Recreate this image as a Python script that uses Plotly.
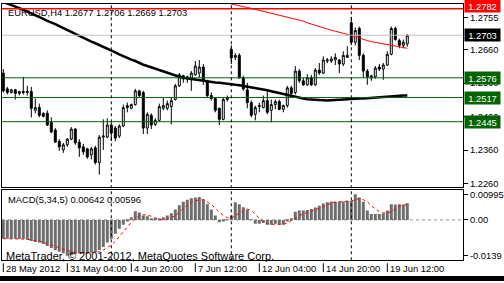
import plotly.graph_objects as go

# ---------------- data ----------------
bar_idx = list(range(102))
opens = [1.2590,1.2543,1.2532,1.2540,1.2529,1.2535,1.2532,1.2535,1.2479,1.2487,
1.2470,1.2470,1.2443,1.2420,1.2387,1.2361,1.2376,1.2393,1.2423,1.2384,
1.2370,1.2364,1.2346,1.2367,1.2323,1.2399,1.2399,1.2435,1.2426,1.2402,
1.2432,1.2487,1.2485,1.2496,1.2537,1.2532,1.2426,1.2464,1.2437,1.2449,
1.2485,1.2485,1.2490,1.2511,1.2552,1.2582,1.2573,1.2570,1.2585,1.2590,
1.2608,1.2567,1.2523,1.2514,1.2485,1.2452,1.2511,1.2661,1.2637,1.2643,
1.2576,1.2540,1.2502,1.2467,1.2490,1.2487,1.2508,1.2479,1.2496,1.2505,
1.2482,1.2493,1.2546,1.2532,1.2596,1.2567,1.2555,1.2576,1.2555,1.2599,
1.2590,1.2626,1.2626,1.2629,1.2629,1.2617,1.2637,1.2740,1.2682,1.2723,
1.2643,1.2596,1.2576,1.2579,1.2608,1.2602,1.2614,1.2646,1.2723,1.2687,
1.2673,1.2677]
highs = [1.2602,1.2549,1.2543,1.2543,1.2537,1.2579,1.2552,1.2549,1.2514,1.2499,
1.2473,1.2479,1.2458,1.2426,1.2393,1.2382,1.2396,1.2429,1.2426,1.2393,
1.2379,1.2367,1.2370,1.2373,1.2405,1.2452,1.2455,1.2443,1.2432,1.2437,
1.2496,1.2502,1.2499,1.2543,1.2540,1.2537,1.2473,1.2470,1.2455,1.2499,
1.2517,1.2508,1.2517,1.2558,1.2590,1.2585,1.2582,1.2596,1.2626,1.2629,
1.2617,1.2570,1.2532,1.2517,1.2487,1.2517,1.2523,1.2673,1.2649,1.2649,
1.2582,1.2561,1.2508,1.2493,1.2502,1.2523,1.2537,1.2511,1.2511,1.2511,
1.2496,1.2552,1.2552,1.2611,1.2602,1.2576,1.2587,1.2585,1.2605,1.2620,
1.2640,1.2635,1.2640,1.2649,1.2632,1.2655,1.2670,1.2758,1.2726,1.2729,
1.2649,1.2602,1.2585,1.2611,1.2617,1.2620,1.2655,1.2729,1.2729,1.2693,
1.2690,1.2706]
lows = [1.2532,1.2526,1.2529,1.2511,1.2523,1.2526,1.2523,1.2458,1.2470,1.2458,
1.2458,1.2432,1.2411,1.2382,1.2358,1.2352,1.2370,1.2390,1.2376,1.2340,
1.2346,1.2334,1.2332,1.2317,1.2287,1.2361,1.2396,1.2387,1.2387,1.2396,
1.2429,1.2473,1.2482,1.2493,1.2517,1.2408,1.2408,1.2423,1.2432,1.2446,
1.2479,1.2479,1.2437,1.2508,1.2549,1.2561,1.2561,1.2537,1.2582,1.2576,
1.2555,1.2517,1.2508,1.2473,1.2435,1.2449,1.2505,1.2617,1.2629,1.2573,
1.2537,1.2485,1.2458,1.2449,1.2473,1.2485,1.2467,1.2443,1.2482,1.2479,
1.2473,1.2487,1.2523,1.2526,1.2561,1.2552,1.2552,1.2552,1.2552,1.2585,
1.2587,1.2620,1.2620,1.2614,1.2590,1.2611,1.2635,1.2673,1.2673,1.2629,
1.2576,1.2555,1.2567,1.2573,1.2596,1.2570,1.2611,1.2643,1.2687,1.2664,
1.2664,1.2669]
closes = [1.2537,1.2532,1.2540,1.2529,1.2535,1.2532,1.2535,1.2485,1.2487,1.2464,
1.2461,1.2435,1.2414,1.2384,1.2370,1.2376,1.2393,1.2423,1.2382,1.2367,
1.2355,1.2340,1.2364,1.2323,1.2399,1.2402,1.2435,1.2411,1.2396,1.2432,
1.2487,1.2493,1.2496,1.2537,1.2523,1.2426,1.2467,1.2435,1.2449,1.2490,
1.2493,1.2499,1.2508,1.2552,1.2585,1.2573,1.2579,1.2590,1.2611,1.2608,
1.2567,1.2523,1.2514,1.2479,1.2452,1.2511,1.2517,1.2635,1.2643,1.2576,
1.2543,1.2502,1.2464,1.2487,1.2493,1.2508,1.2473,1.2496,1.2505,1.2482,
1.2493,1.2546,1.2529,1.2596,1.2567,1.2555,1.2576,1.2555,1.2599,1.2590,
1.2629,1.2629,1.2632,1.2637,1.2617,1.2643,1.2643,1.2682,1.2717,1.2643,
1.2596,1.2579,1.2582,1.2605,1.2602,1.2614,1.2646,1.2723,1.2690,1.2673,
1.2682,1.2703]
ma_black = [1.2802,1.2798,1.2794,1.2790,1.2784,1.2779,1.2774,1.2768,1.2764,1.2758,
1.2752,1.2746,1.2742,1.2736,1.2730,1.2724,1.2718,1.2712,1.2708,1.2702,
1.2696,1.2690,1.2684,1.2679,1.2674,1.2668,1.2662,1.2657,1.2652,1.2646,
1.2640,1.2634,1.2630,1.2626,1.2620,1.2615,1.2611,1.2607,1.2602,1.2598,
1.2593,1.2589,1.2585,1.2582,1.2579,1.2576,1.2574,1.2573,1.2570,1.2568,
1.2567,1.2565,1.2564,1.2562,1.2561,1.2559,1.2558,1.2556,1.2555,1.2554,
1.2552,1.2551,1.2548,1.2546,1.2545,1.2542,1.2539,1.2536,1.2533,1.2530,
1.2527,1.2524,1.2521,1.2518,1.2515,1.2514,1.2512,1.2511,1.2509,1.2509,
1.2509,1.2508,1.2509,1.2510,1.2511,1.2512,1.2512,1.2512,1.2513,1.2514,
1.2514,1.2515,1.2517,1.2518,1.2519,1.2520,1.2521,1.2522,1.2522,1.2523,
1.2523,1.2523]
ma_red = [None]*54 + [1.2805,1.2802,1.2798,1.2795,1.2793,1.2790,1.2788,1.2786,1.2783,1.2781,
1.2779,1.2776,1.2773,1.2770,1.2767,1.2764,1.2761,1.2758,1.2755,1.2752,
1.2748,1.2745,1.2740,1.2736,1.2732,1.2729,1.2725,1.2721,1.2718,1.2715,
1.2712,1.2709,1.2707,1.2704,1.2699,1.2695,1.2690,1.2687,1.2684,1.2682,
1.2679,1.2676,1.2674,1.2672,1.2670,1.2668,1.2666,1.2664]
macd_hist = [-0.0073,-0.0073,-0.0073,-0.0073,-0.0074,-0.0073,-0.0077,-0.0082,-0.0086,-0.0088,
-0.0094,-0.0101,-0.0109,-0.0117,-0.0124,-0.0130,-0.0139,-0.0137,-0.0132,-0.0130,
-0.0130,-0.0131,-0.0126,-0.0126,-0.0117,-0.0105,-0.0088,-0.0073,-0.0054,-0.0034,
-0.0019,-0.0006,0.0010,0.0033,0.0029,0.0017,0.0014,0.0006,0.0004,0.0006,
0.0010,0.0017,0.0026,0.0040,0.0057,0.0070,0.0078,0.0084,0.0087,0.0089,
0.0080,0.0061,0.0040,0.0017,-0.0009,-0.0006,0.0001,0.0017,0.0068,0.0061,
0.0049,0.0040,0.0001,-0.0015,-0.0015,-0.0012,-0.0019,-0.0019,-0.0015,-0.0019,
-0.0019,-0.0006,0.0004,0.0032,0.0036,0.0036,0.0038,0.0042,0.0048,0.0055,
0.0064,0.0068,0.0071,0.0070,0.0070,0.0071,0.0074,0.0074,0.00995,0.0087,
0.0070,0.0036,0.0023,0.0023,0.0023,0.0025,0.0036,0.0061,0.0060,0.0061,
0.0060,0.00642]
macd_signal = [-0.0073,-0.0073,-0.0073,-0.0074,-0.0074,-0.0075,-0.0075,-0.0078,-0.0080,-0.0083,
-0.0087,-0.0092,-0.0097,-0.0103,-0.0110,-0.0115,-0.0120,-0.0124,-0.0126,-0.0128,
-0.0129,-0.0129,-0.0128,-0.0126,-0.0124,-0.0117,-0.0108,-0.0098,-0.0083,-0.0066,
-0.0047,-0.0028,-0.0009,0.0006,0.0017,0.0020,0.0019,0.0014,0.0006,0.0001,
0.0000,0.0003,0.0008,0.0017,0.0029,0.0045,0.0057,0.0068,0.0074,0.0078,
0.0078,0.0070,0.0060,0.0045,0.0029,0.0017,0.0009,0.0006,0.0017,0.0027,
0.0034,0.0042,0.0036,0.0023,0.0006,-0.0006,-0.0015,-0.0017,-0.0017,-0.0017,
-0.0017,-0.0012,-0.0004,0.0006,0.0017,0.0024,0.0029,0.0033,0.0038,0.0045,
0.0051,0.0059,0.0065,0.0069,0.0070,0.0071,0.0073,0.0073,0.0078,0.0083,
0.0078,0.0070,0.0055,0.0042,0.0032,0.0027,0.0027,0.0032,0.0042,0.0052,
0.0057,0.00596]

time_tick_idx = [0, 16, 32, 48, 64, 80, 96]
time_tick_text = ["28 May 2012", "31 May 04:00", "4 Jun 20:00", "7 Jun 12:00",
                  "12 Jun 04:00", "14 Jun 20:00", "19 Jun 12:00"]
week_sep_idx = [27, 57, 87]
price_ticks = [1.2260, 1.2360, 1.2460, 1.2560, 1.2660, 1.2755]
macd_ticks = [0.00995, 0.0, -0.0139]
macd_tick_text = ["0.00995", "0.00", "-0.0139"]
level_red = 1.2782
level_bid = 1.2703
levels_green = [1.2576, 1.2517, 1.2445]
title_main = "EURUSD,H4 1.2677 1.2706 1.2669 1.2703"
title_macd = "MACD(5,34,5) 0.00642 0.00596"
copyright_text = "MetaTrader, \u00a9 2001-2012, MetaQuotes Software Corp."

# ---------------- layout geometry ----------------
W, H = 504, 283
FONT = "Liberation Sans"
FS = 9.4
def py(px):  # pixel row -> paper fraction
    return 1 - px / H

x_dom = [2 / W, 463 / W]
x_rng = [(2 - 3.3) / 4, (463 - 3.3) / 4]
main_dom = [py(188), py(2)]
macd_dom = [py(262), py(191)]

fig = go.Figure()
fig.add_trace(go.Candlestick(
    x=bar_idx, open=opens, high=highs, low=lows, close=closes,
    increasing=dict(line=dict(color="black", width=1), fillcolor="white"),
    decreasing=dict(line=dict(color="black", width=1), fillcolor="black"),
    whiskerwidth=0, xaxis="x", yaxis="y", showlegend=False, hoverinfo="skip"))
fig.add_trace(go.Scatter(x=bar_idx, y=ma_black, mode="lines",
                         line=dict(color="black", width=2.5), xaxis="x", yaxis="y",
                         showlegend=False, hoverinfo="skip"))
fig.add_trace(go.Scatter(x=bar_idx, y=ma_red, mode="lines",
                         line=dict(color="#ff0000", width=1), xaxis="x", yaxis="y",
                         showlegend=False, hoverinfo="skip"))
fig.add_trace(go.Bar(x=bar_idx, y=macd_hist, width=0.75,
                     marker=dict(color="#6e6e6e", line=dict(width=0)),
                     xaxis="x2", yaxis="y2", showlegend=False, hoverinfo="skip"))
fig.add_trace(go.Scatter(x=bar_idx, y=macd_signal, mode="lines",
                         line=dict(color="#ff0000", width=1, dash="dot"),
                         xaxis="x2", yaxis="y2", showlegend=False, hoverinfo="skip"))

shapes = []
shapes.append(dict(type="line", xref="x domain", yref="y", x0=0, x1=1,
                   y0=level_red, y1=level_red, line=dict(color="#ff0000", width=1.3)))
shapes.append(dict(type="line", xref="x domain", yref="y", x0=0, x1=1,
                   y0=level_bid, y1=level_bid, line=dict(color="#c0c0c0", width=1)))
for lv in levels_green:
    shapes.append(dict(type="line", xref="x domain", yref="y", x0=0, x1=1,
                       y0=lv, y1=lv, line=dict(color="#006400", width=1)))
shapes.append(dict(type="line", xref="x2 domain", yref="y2", x0=0, x1=1,
                   y0=0, y1=0, line=dict(color="#909090", width=1, dash="dot"), layer="below"))
for s in week_sep_idx:
    shapes.append(dict(type="line", xref="x", yref="paper", x0=s, x1=s,
                       y0=macd_dom[0], y1=main_dom[1],
                       line=dict(color="black", width=1, dash="3px,3px")))
for t in time_tick_idx:
    shapes.append(dict(type="line", xref="x2", yref="paper", x0=t, x1=t,
                       y0=py(274), y1=py(265), line=dict(color="black", width=1)))
shapes.append(dict(type="rect", xref="paper", yref="paper", x0=0, x1=1,
                   y0=0, y1=5 / H, fillcolor="black", line=dict(width=0)))

ann = []
ann.append(dict(text=title_main, xref="paper", yref="paper", x=6 / W, y=py(11),
                xanchor="left", yanchor="middle", showarrow=False,
                font=dict(family=FONT, size=FS, color="black")))
ann.append(dict(text=title_macd, xref="paper", yref="paper", x=6 / W, y=py(200.5),
                xanchor="left", yanchor="middle", showarrow=False,
                font=dict(family=FONT, size=FS, color="black")))
ann.append(dict(text=copyright_text, xref="paper", yref="paper", x=4 / W, y=py(257.5),
                xanchor="left", yanchor="middle", showarrow=False,
                font=dict(family=FONT, size=11, color="black")))
for t, txt in zip(time_tick_idx, time_tick_text):
    ann.append(dict(text=txt, xref="x2", yref="paper", x=t, y=py(270.5),
                    xanchor="left", yanchor="middle", xshift=1, showarrow=False,
                    font=dict(family=FONT, size=FS, color="black")))
def box(val, bg, yshift=0):
    return dict(text="%.4f" % val, xref="paper", yref="y", x=464 / W, y=val,
                xanchor="left", yanchor="middle", yshift=yshift, showarrow=False,
                width=33, height=10, align="center",
                bgcolor=bg, borderpad=1, font=dict(family=FONT, size=FS, color="white"))
ann.append(box(level_red, "#ff0000", 3))
ann.append(box(level_bid, "black"))
for lv in levels_green:
    ann.append(box(lv, "#006400"))

axis_common = dict(showgrid=False, zeroline=False, showline=True, mirror=True,
                   linecolor="black", linewidth=1)
fig.update_layout(
    width=W, height=H, margin=dict(l=0, r=0, t=0, b=0),
    paper_bgcolor="white", plot_bgcolor="white",
    showlegend=False, shapes=shapes, annotations=ann,
    font=dict(family=FONT, size=FS, color="black"),
    xaxis=dict(domain=x_dom, range=x_rng, anchor="y", showticklabels=False,
               ticks="", rangeslider=dict(visible=False), fixedrange=True, **axis_common),
    yaxis=dict(domain=main_dom, range=[1.28021 - 188 / 3400, 1.28021 - 2 / 3400],
               anchor="x", side="right", tickvals=price_ticks,
               ticktext=["%.4f" % v for v in price_ticks], ticks="outside", ticklen=4,
               tickcolor="black", tickfont=dict(family=FONT, size=FS, color="black"),
               **axis_common),
    xaxis2=dict(domain=x_dom, range=x_rng, anchor="y2", showticklabels=False,
                ticks="", **axis_common),
    yaxis2=dict(domain=macd_dom, range=[(221 - 262) / 2613, (221 - 191) / 2613],
                anchor="x2", side="right", tickvals=macd_ticks, ticktext=macd_tick_text,
                ticks="outside", ticklen=4, tickcolor="black",
                tickfont=dict(family=FONT, size=FS, color="black"), **axis_common),
)
fig.write_html("out.html")
